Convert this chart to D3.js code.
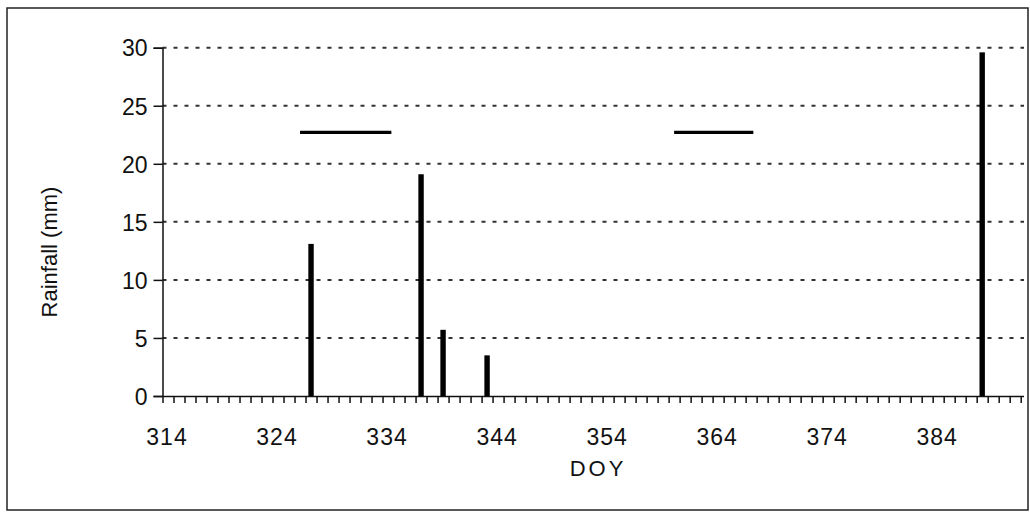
<!DOCTYPE html>
<html>
<head>
<meta charset="utf-8">
<script src="https://cdn.jsdelivr.net/npm/d3@7"></script>
<style>
  html, body { margin: 0; padding: 0; background: #fff; }
  svg { display: block; }
  text { font-family: "Liberation Sans", Arial, sans-serif; fill: #111; }
</style>
</head>
<body>
<svg id="chart" width="1030" height="518"></svg>
<script>
// ---- data ----
const rainDays = [327, 337, 339, 343, 388];
const rainfall = [13.1, 19.1, 5.7, 3.5, 29.6];
const periodStart = [326.5, 360.5];
const periodEnd = [334.8, 367.7];
const periodLevel = [22.7, 22.7];
const yTickValues = [0, 5, 10, 15, 20, 25, 30];
const xTickLabels = [314, 324, 334, 344, 354, 364, 374, 384];
const xMinorTicks = d3.range(314, 393);

(function () {
const svg = d3.select("#chart");
const pLeft = 162.5, pRight = 1024, pTop = 47.7, pBottom = 396;

const x = d3.scaleLinear().domain([314, 392.3]).range([pLeft, pRight]);
const y = d3.scaleLinear().domain([0, 30]).range([pBottom, pTop]);

// outer frame
svg.append("rect")
  .attr("x", 7).attr("y", 8).attr("width", 1021).attr("height", 502)
  .attr("fill", "none").attr("stroke", "#222").attr("stroke-width", 1.5);

// gridlines
svg.append("g")
  .selectAll("line")
  .data(yTickValues.filter(v => v > 0))
  .join("line")
  .attr("x1", pLeft).attr("x2", pRight)
  .attr("y1", d => y(d)).attr("y2", d => y(d))
  .attr("stroke", "#333").attr("stroke-width", 2)
  .attr("stroke-dasharray", "4,7");

// y axis
const yAxis = d3.axisLeft(y).tickValues(yTickValues).tickSize(9).tickPadding(6);
const gy = svg.append("g").attr("transform", `translate(${pLeft},0)`).call(yAxis);
gy.select(".domain").attr("stroke", "#111").attr("stroke-width", 1.5);
gy.selectAll(".tick line").attr("stroke", "#111").attr("stroke-width", 1.5);
gy.selectAll(".tick text")
  .style("font-family", "'Liberation Sans', Arial, sans-serif")
  .style("font-size", "23px").attr("fill", "#111")
  .attr("dy", "0.36em");

// x axis: line + minor ticks every day
const xAxis = d3.axisBottom(x).tickValues(xMinorTicks).tickSize(7).tickFormat("");
const gx = svg.append("g").attr("transform", `translate(0,${pBottom})`).call(xAxis);
gx.select(".domain").attr("stroke", "#111").attr("stroke-width", 1.5)
  .attr("d", `M${pLeft},0.5H${pRight}`);
gx.selectAll(".tick line").attr("stroke", "#111").attr("stroke-width", 1.5);

// x tick labels (centered on the day category)
svg.append("g")
  .selectAll("text")
  .data(xTickLabels)
  .join("text")
  .attr("x", d => x(d + 0.5) - 1)
  .attr("y", 445)
  .attr("text-anchor", "middle")
  .style("font-size", "23px")
  .style("letter-spacing", "1px")
  .text(d => d);

// bars
svg.append("g")
  .selectAll("rect")
  .data(rainDays.map((d, i) => ({ day: d, v: rainfall[i] })))
  .join("rect")
  .attr("x", d => x(d.day + 0.5) - 2.7)
  .attr("width", 5.4)
  .attr("y", d => y(d.v))
  .attr("height", d => y(0) - y(d.v))
  .attr("fill", "#000");

// horizontal period lines
svg.append("g")
  .selectAll("line")
  .data(periodStart.map((s, i) => ({ s, e: periodEnd[i], v: periodLevel[i] })))
  .join("line")
  .attr("x1", d => x(d.s)).attr("x2", d => x(d.e))
  .attr("y1", d => y(d.v)).attr("y2", d => y(d.v))
  .attr("stroke", "#000").attr("stroke-width", 3.2);

// axis titles
svg.append("text")
  .attr("x", 598).attr("y", 476)
  .attr("text-anchor", "middle")
  .style("font-size", "22px")
  .style("letter-spacing", "3px")
  .text("DOY");

svg.append("text")
  .attr("transform", "translate(57,252) rotate(-90)")
  .attr("text-anchor", "middle")
  .style("font-size", "22px")
  .text("Rainfall (mm)");
})();
</script>
</body>
</html>
